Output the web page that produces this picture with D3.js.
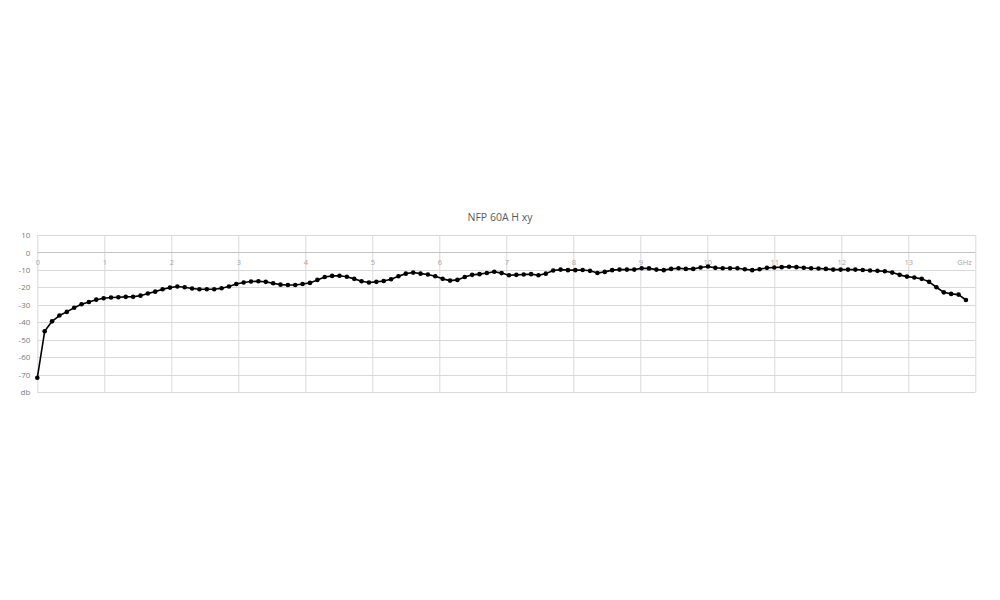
<!DOCTYPE html>
<html>
<head>
<meta charset="utf-8">
<script src="https://cdnjs.cloudflare.com/ajax/libs/d3/7.8.5/d3.min.js"></script>
<style>
  html, body { margin: 0; padding: 0; background: #fff; }
  #chart { width: 1000px; height: 600px; }
  text { font-family: "Open Sans", "Liberation Sans", sans-serif; }
</style>
</head>
<body>
<div id="chart"></div>
<script>
'use strict';

// frequency of each sample, GHz
var freqs = [
  0.00, 0.11, 0.22, 0.33, 0.44, 0.55, 0.66, 0.77, 0.88, 0.99,
  1.10, 1.21, 1.32, 1.43, 1.54, 1.65, 1.76, 1.87, 1.98, 2.09,
  2.20, 2.31, 2.42, 2.53, 2.64, 2.75, 2.86, 2.97, 3.08, 3.19,
  3.30, 3.41, 3.52, 3.63, 3.74, 3.85, 3.96, 4.07, 4.18, 4.29,
  4.40, 4.51, 4.62, 4.73, 4.84, 4.95, 5.06, 5.17, 5.28, 5.39,
  5.50, 5.61, 5.72, 5.83, 5.94, 6.05, 6.16, 6.27, 6.38, 6.49,
  6.60, 6.71, 6.82, 6.93, 7.04, 7.15, 7.26, 7.37, 7.48, 7.59,
  7.70, 7.81, 7.92, 8.03, 8.14, 8.25, 8.36, 8.47, 8.58, 8.69,
  8.80, 8.91, 9.02, 9.13, 9.24, 9.35, 9.46, 9.57, 9.68, 9.79,
  9.90, 10.01, 10.12, 10.23, 10.34, 10.45, 10.56, 10.67, 10.78, 10.89,
  11.00, 11.11, 11.22, 11.33, 11.44, 11.55, 11.66, 11.77, 11.88, 11.99,
  12.10, 12.21, 12.32, 12.43, 12.54, 12.65, 12.76, 12.87, 12.98, 13.09,
  13.20, 13.31, 13.42, 13.53, 13.64, 13.75, 13.86
];

// measured level, db
var levels = [
  -71.7, -45.1, -39.4, -36.1, -34.0, -31.6, -29.6, -28.3, -27.0, -26.2,
  -25.8, -25.6, -25.4, -25.3, -24.7, -23.5, -22.4, -21.0, -20.1, -19.5,
  -19.9, -20.6, -21.0, -21.0, -21.0, -20.5, -19.5, -18.0, -17.2, -16.6,
  -16.5, -16.8, -17.6, -18.4, -18.6, -18.6, -18.0, -17.4, -15.7, -14.0,
  -13.4, -13.3, -13.9, -15.1, -16.5, -17.2, -16.8, -16.3, -15.3, -13.6,
  -12.1, -11.5, -12.1, -12.6, -13.6, -15.1, -16.1, -15.7, -14.0, -12.8,
  -12.4, -11.7, -11.0, -11.8, -13.0, -12.8, -12.6, -12.4, -13.0, -12.1,
  -10.3, -9.8, -10.1, -10.1, -10.0, -10.5, -11.7, -11.1, -10.1, -9.8,
  -9.8, -9.8, -9.0, -9.1, -9.8, -10.1, -9.4, -9.0, -9.4, -9.4,
  -8.6, -8.0, -8.8, -9.0, -9.0, -9.0, -9.6, -10.1, -9.6, -8.8,
  -8.6, -8.4, -8.2, -8.4, -8.7, -9.0, -9.2, -9.4, -9.8, -9.8,
  -9.8, -9.8, -10.0, -10.3, -10.5, -10.7, -11.5, -12.8, -13.8, -14.3,
  -15.1, -16.8, -19.9, -22.8, -23.7, -24.1, -27.2
];

var xTicks = [0, 1, 2, 3, 4, 5, 6, 7, 8, 9, 10, 11, 12, 13, 14];
var xTickLabels = ['0', '1', '2', '3', '4', '5', '6', '7', '8', '9', '10', '11', '12', '13', 'GHz'];
var yTicks = [10, 0, -10, -20, -30, -40, -50, -60, -70, -80];
var yTickLabels = ['10', '0', '-10', '-20', '-30', '-40', '-50', '-60', '-70', 'db'];
var title = 'NFP 60A H xy';

var width = 1000,
    height = 600;

var margin = {top: 235, right: 24.7, bottom: 207.7, left: 37.3},
    chartWidth = width - margin.left - margin.right,
    chartHeight = height - margin.top - margin.bottom;

var svg = d3.select('#chart').append('svg')
    .attr('width', width)
    .attr('height', height);

svg.append('rect')
    .attr('width', width)
    .attr('height', height)
    .attr('fill', '#fff');

svg.append('text')
    .attr('x', width / 2)
    .attr('y', 221)
    .attr('text-anchor', 'middle')
    .attr('font-size', '10.5px')
    .attr('fill', '#595959')
    .text(title);

var chart = svg.append('g')
    .attr('transform', 'translate(' + margin.left + ',' + margin.top + ')');

var x = d3.scaleLinear()
    .domain([0, 14])
    .range([0, chartWidth]);

var y = d3.scaleLinear()
    .domain([-80, 10])
    .range([chartHeight, 0]);

// grid
chart.append('g')
    .attr('class', 'hGrid')
  .selectAll('line')
    .data(yTicks)
  .enter().append('line')
    .attr('x1', 0)
    .attr('x2', chartWidth)
    .attr('y1', function(d) { return Math.round(y(d)) + 0.5; })
    .attr('y2', function(d) { return Math.round(y(d)) + 0.5; })
    .attr('stroke', '#d9d9d9')
    .attr('stroke-width', 1);

chart.append('g')
    .attr('class', 'vGrid')
  .selectAll('line')
    .data(xTicks)
  .enter().append('line')
    .attr('x1', function(d) { return Math.round(x(d)) + 0.5; })
    .attr('x2', function(d) { return Math.round(x(d)) + 0.5; })
    .attr('y1', 0)
    .attr('y2', chartHeight)
    .attr('stroke', '#d9d9d9')
    .attr('stroke-width', 1);

// axis line at 0 db
chart.append('line')
    .attr('x1', 0)
    .attr('x2', chartWidth)
    .attr('y1', Math.round(y(0)) + 0.5)
    .attr('y2', Math.round(y(0)) + 0.5)
    .attr('stroke', '#c4c4c4')
    .attr('stroke-width', 1.2);

var xAxis = chart.append('g')
    .attr('class', 'xAxis')
    .attr('transform', 'translate(0,' + y(0) + ')')
    .call(d3.axisBottom(x)
      .tickValues(xTicks)
      .tickSize(0)
      .tickPadding(7)
      .tickFormat(function(d, i) { return xTickLabels[i]; }));

xAxis.select('.domain').remove();
xAxis.selectAll('text')
    .attr('font-size', '7.5px')
    .attr('fill', '#a6a6a6')
    .style('font-family', '"Open Sans", sans-serif');
xAxis.selectAll('.tick:last-child text')
    .attr('text-anchor', 'end')
    .attr('dx', '-4');

var yAxis = chart.append('g')
    .attr('class', 'yAxis')
    .call(d3.axisLeft(y)
      .tickValues(yTicks)
      .tickSize(0)
      .tickPadding(7)
      .tickFormat(function(d, i) { return yTickLabels[i]; }));

yAxis.select('.domain').remove();
yAxis.selectAll('text')
    .attr('font-size', '8px')
    .attr('fill', '#7a7a7a')
    .style('font-family', '"Open Sans", sans-serif');

// series
var points = freqs.map(function(f, i) { return [f, levels[i]]; });

var line = d3.line()
    .x(function(d) { return x(d[0]); })
    .y(function(d) { return y(d[1]); });

chart.append('path')
    .datum(points)
    .attr('fill', 'none')
    .attr('stroke', '#000')
    .attr('stroke-width', 1.6)
    .attr('stroke-linejoin', 'round')
    .attr('d', line);

chart.append('g')
    .attr('class', 'markers')
  .selectAll('circle')
    .data(points)
  .enter().append('circle')
    .attr('cx', function(d) { return x(d[0]); })
    .attr('cy', function(d) { return y(d[1]); })
    .attr('r', 2.3)
    .attr('fill', '#000');
</script>
</body>
</html>
